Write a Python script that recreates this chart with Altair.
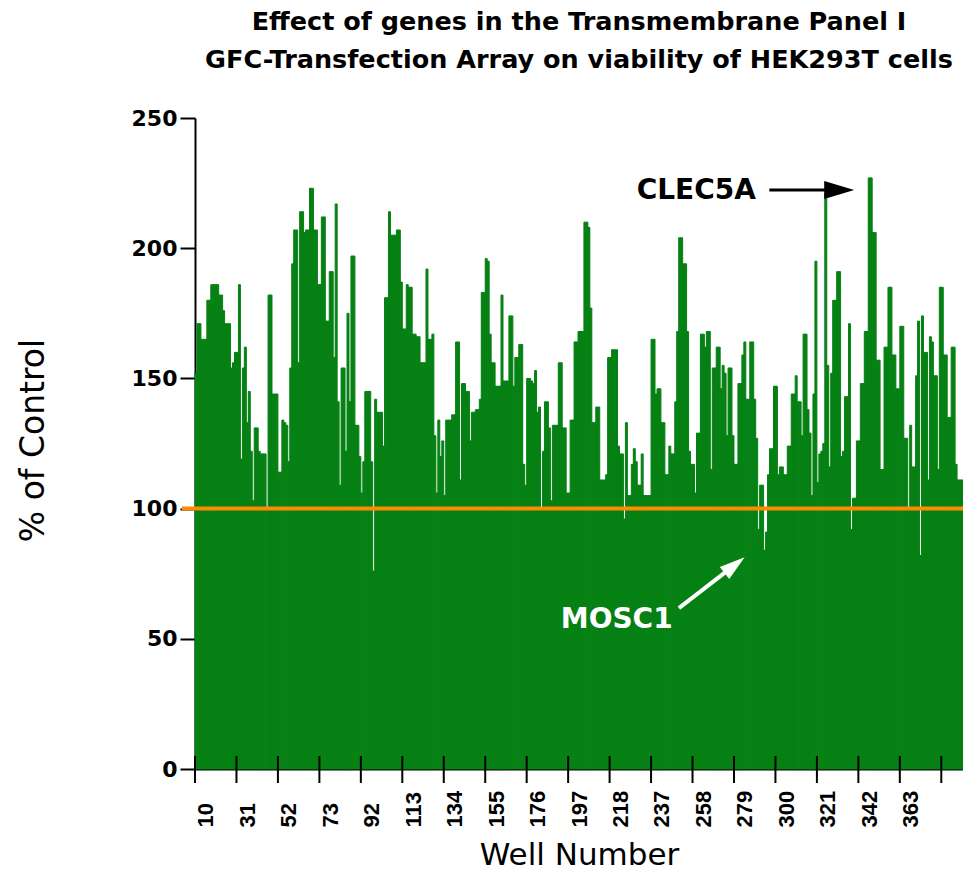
import altair as alt
import pandas as pd

# ---------------- data ----------------
values = [
    152, 171, 171, 165, 165, 165, 180, 180, 186, 186,
    186, 186, 182, 182, 176, 171, 171, 171, 154, 156,
    160, 160, 186, 119, 154, 162, 133, 145, 122, 103,
    131, 131, 122, 121, 121, 121, 100, 182, 182, 144,
    144, 144, 114, 114, 134, 133, 132, 118, 154, 194,
    207, 207, 156, 214, 214, 206, 207, 207, 223, 223,
    207, 207, 186, 186, 212, 212, 172, 172, 191, 191,
    158, 217, 141, 109, 154, 154, 122, 175, 141, 197,
    197, 132, 132, 120, 106, 118, 145, 145, 145, 118,
    76, 142, 137, 137, 137, 124, 181, 181, 214, 205,
    205, 205, 207, 207, 187, 169, 169, 186, 185, 185,
    167, 167, 166, 166, 156, 156, 156, 192, 165, 165,
    167, 128, 106, 134, 120, 126, 105, 134, 134, 134,
    136, 136, 164, 164, 111, 148, 148, 145, 145, 126,
    137, 137, 138, 138, 142, 183, 183, 196, 195, 167,
    156, 156, 147, 147, 147, 182, 149, 149, 149, 174,
    174, 147, 158, 158, 163, 163, 117, 109, 150, 150,
    149, 148, 153, 137, 139, 100, 122, 141, 141, 131,
    103, 132, 132, 132, 156, 156, 131, 131, 106, 106,
    134, 134, 164, 164, 168, 168, 168, 210, 210, 208,
    177, 133, 133, 139, 139, 111, 111, 111, 113, 158,
    158, 161, 161, 161, 124, 121, 121, 96, 133, 105,
    105, 117, 123, 118, 109, 109, 121, 105, 105, 105,
    105, 165, 165, 144, 146, 146, 133, 133, 113, 113,
    124, 121, 121, 141, 168, 204, 204, 194, 194, 168,
    122, 117, 117, 106, 129, 129, 167, 167, 162, 168,
    168, 115, 154, 154, 162, 162, 146, 155, 152, 128,
    154, 154, 128, 117, 117, 148, 148, 159, 164, 142,
    142, 164, 164, 142, 127, 92, 109, 109, 84, 91,
    113, 123, 123, 147, 147, 113, 116, 116, 113, 113,
    124, 124, 144, 144, 151, 141, 141, 128, 167, 167,
    138, 129, 105, 144, 195, 110, 121, 122, 125, 221,
    155, 116, 152, 180, 180, 191, 191, 120, 122, 143,
    143, 171, 92, 104, 104, 126, 126, 148, 148, 168,
    168, 227, 227, 206, 206, 157, 157, 115, 115, 162,
    162, 185, 185, 159, 159, 146, 146, 170, 170, 127,
    127, 100, 132, 116, 116, 151, 172, 82, 174, 160,
    160, 111, 166, 164, 151, 151, 115, 185, 185, 159,
    159, 135, 135, 162, 162, 117, 111, 111, 111,
]
well_labels = ["10", "31", "52", "73", "92", "113", "134", "155", "176",
               "197", "218", "237", "258", "279", "300", "321", "342", "363"]
y_ticks = [0, 50, 100, 150, 200, 250]
control_level = [100]
title_lines = ["Effect of genes in the Transmembrane Panel I",
               "GFC-Transfection Array on viability of HEK293T cells"]

# annotations (in data units: bar index / % of control)
note_text = ["CLEC5A", "MOSC1"]
note_x = [253.9, 213.6]
note_y = [222.0, 57.4]
note_color = ["black", "white"]
arrow_x0 = [290.9, 245.1]
arrow_y0 = [222.35, 61.8]
arrow_x1 = [326.3, 273.3]
arrow_y1 = [222.35, 78.3]
arrow_angle = [0, 322]
arrow_size = [900, 650]
arrow_width = [3, 4]

# ---------------- styling ----------------
GREEN = "#068014"
ORANGE = "#FF8C00"
GROUP = 21
N = len(values)
W, H = 768, 651

bars = pd.DataFrame({"well_idx": list(range(N)), "value": values})
bars["x0"] = bars["well_idx"]
bars["x1"] = bars["well_idx"] + 1

label_pos = [GROUP * k + 5.5 for k in range(len(well_labels))]
tick_pos = [GROUP * k for k in range(N // GROUP + 1)]
label_expr = ("[" + ",".join("'%s'" % s for s in well_labels) +
              "][round((datum.value - 5.5) / %d)]" % GROUP)

xscale = alt.Scale(domain=[0, N], nice=False, zero=False, padding=0)
yscale = alt.Scale(domain=[0, 250], nice=False, padding=0)

axis_x = alt.Axis(
    orient="bottom", values=label_pos, labelExpr=label_expr, ticks=False,
    domain=True, domainColor="black", domainWidth=2, grid=False,
    labelAngle=270, labelAlign="left", labelBaseline="middle", labelPadding=58,
    labelFont="Liberation Sans", labelFontWeight="bold", labelFontSize=22,
    labelColor="black", labelOverlap=False, labelFlush=False, labelBound=False,
    title="Well Number", titleFont="DejaVu Sans", titleFontSize=31,
    titleFontWeight="normal", titleColor="black", titleY=71, titleBaseline="top",
)
axis_y = alt.Axis(
    orient="left", values=y_ticks, tickSize=15, tickWidth=2, tickColor="black",
    domain=True, domainColor="black", domainWidth=2, grid=False,
    labelFont="DejaVu Sans", labelFontWeight="bold", labelFontSize=22,
    labelPadding=3, labelColor="black",
    title="% of Control", titleFont="DejaVu Sans", titleFontSize=33,
    titleFontWeight="normal", titleColor="black", titleX=-152, titleY=322,
    titleAngle=270, titleAlign="center", titleBaseline="alphabetic",
)

bar_layer = alt.Chart(bars).mark_bar(
    color=GREEN, stroke=GREEN, strokeWidth=1, orient="vertical"
).encode(
    x=alt.X("x0:Q", scale=xscale, axis=axis_x),
    x2="x1:Q",
    y=alt.Y("value:Q", scale=yscale, axis=axis_y),
    y2=alt.datum(0),
)

# crossing tick marks of the category axis (every 21 wells)
tick_layer = alt.Chart(pd.DataFrame({"t": tick_pos})).mark_rule(
    color="black", strokeWidth=2
).encode(
    x=alt.X("t:Q", scale=xscale, axis=None),
    y=alt.value(H - 13), y2=alt.value(H + 14),
)

rule_layer = alt.Chart(pd.DataFrame({"level": control_level})).mark_rule(
    color=ORANGE, strokeWidth=4
).encode(
    y=alt.Y("level:Q", scale=yscale, axis=None),
    x=alt.value(-13), x2=alt.value(W + 8),
)

layers = [bar_layer, tick_layer, rule_layer]
for k in range(len(note_text)):
    seg = pd.DataFrame({"x": [arrow_x0[k], arrow_x1[k]], "y": [arrow_y0[k], arrow_y1[k]]})
    layers.append(
        alt.Chart(seg).mark_line(color=note_color[k], strokeWidth=arrow_width[k]).encode(
            x=alt.X("x:Q", scale=xscale, axis=None),
            y=alt.Y("y:Q", scale=yscale, axis=None),
        )
    )
    head = pd.DataFrame({"x": [arrow_x1[k]], "y": [arrow_y1[k]]})
    layers.append(
        alt.Chart(head).mark_point(
            shape="M-1,-0.6L1,0L-1,0.6Z", filled=True, size=arrow_size[k],
            color=note_color[k], opacity=1, angle=arrow_angle[k], strokeWidth=0,
        ).encode(
            x=alt.X("x:Q", scale=xscale, axis=None),
            y=alt.Y("y:Q", scale=yscale, axis=None),
        )
    )
    lab = pd.DataFrame({"x": [note_x[k]], "y": [note_y[k]], "t": [note_text[k]]})
    layers.append(
        alt.Chart(lab).mark_text(
            font="DejaVu Sans", fontWeight="bold", fontSize=28,
            color=note_color[k], align="center", baseline="middle",
        ).encode(
            x=alt.X("x:Q", scale=xscale, axis=None),
            y=alt.Y("y:Q", scale=yscale, axis=None),
            text="t:N",
        )
    )

chart = alt.layer(*layers).resolve_axis(
    x="independent", y="independent"
).properties(
    width=W, height=H,
    background="white",
    title=alt.TitleParams(
        text=title_lines, font="DejaVu Sans", fontSize=25.5, fontWeight="bold",
        color="black", anchor="middle", frame="group", lineHeight=38, offset=34,
    ),
    autosize=alt.AutoSizeParams(type="none"),
    padding={"left": 187, "top": 110, "right": 0, "bottom": 101},
).configure_view(strokeWidth=0)

chart.save("out.html", embed_options={"renderer": "svg", "actions": False})
